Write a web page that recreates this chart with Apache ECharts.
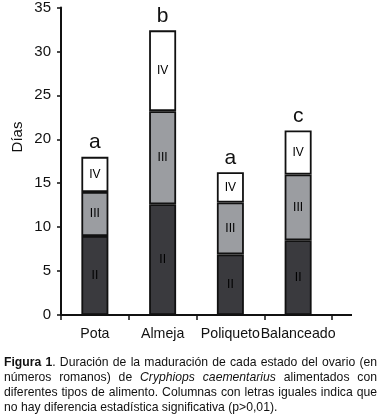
<!DOCTYPE html>
<html>
<head>
    <meta charset="utf-8">
    <title>ECharts</title>
    <script src="https://cdn.jsdelivr.net/npm/echarts/dist/echarts.min.js"></script>
    <style>
        html, body { margin: 0; padding: 0; background: #fff; }
    </style>
</head>
<body>
    <div id="main" style="width: 379px;height:417px;"></div>
    <script>
        var categories = ['Pota', 'Almeja', 'Poliqueto', 'Balanceado'];
        var estadoII = [9, 12.6, 6.9, 8.5];
        var estadoIII = [5, 10.6, 5.9, 7.5];
        var estadoIV = [4, 9.2, 3.45, 5];
        var letras = ['a', 'b', 'a', 'c'];
        var yMin = 0, yMax = 35, yStep = 5;

        var captionLines = [
            '{b|Figura} {b|1}. Duración de la maduración de cada estado del ovario (en',
            'números romanos) de {i|Cryphiops} {i|caementarius} alimentados con',
            'diferentes tipos de alimento. Columnas con letras iguales indica que',
            'no hay diferencia estadística significativa (p>0,01).'
        ];

        var FONT = '"Liberation Sans", Arial, sans-serif';
        var CAP_SIZE = 12.2;
        var chart = echarts.init(document.getElementById('main'));

        function segment(name, values, color, roman) {
            return {
                name: name,
                type: 'bar',
                stack: 'total',
                data: values,
                barWidth: 27,
                itemStyle: { color: color, borderColor: '#111', borderWidth: 1.8 },
                label: {
                    show: true,
                    position: 'inside',
                    formatter: roman,
                    color: '#000',
                    textBorderWidth: 0,
                    fontSize: 12,
                    fontFamily: FONT
                },
                silent: true
            };
        }

        function capStyle(text) {
            return {
                text: text,
                fontSize: CAP_SIZE, fontFamily: FONT, fill: '#111', verticalAlign: 'middle',
                rich: {
                    b: { fontWeight: 'bold', fontSize: CAP_SIZE, fontFamily: FONT, fill: '#111' },
                    i: { fontStyle: 'italic', fontSize: CAP_SIZE, fontFamily: FONT, fill: '#111' }
                }
            };
        }

        // caption: justified lines built word by word
        var capLeft = 4, capRight = 377, capY = [363, 378, 393, 408];
        var captionGraphics = [];
        captionLines.forEach(function (line, li) {
            var words = line.split(' ');
            var widths = words.map(function (w) {
                return new echarts.graphic.Text({ style: capStyle(w) }).getBoundingRect().width;
            });
            var total = widths.reduce(function (a, b) { return a + b; }, 0);
            var spaceW = new echarts.graphic.Text({ style: capStyle('a a') }).getBoundingRect().width
                - 2 * new echarts.graphic.Text({ style: capStyle('a') }).getBoundingRect().width;
            var last = li === captionLines.length - 1;
            var gap = last ? spaceW : (capRight - capLeft - total) / (words.length - 1);
            var x = capLeft;
            words.forEach(function (w, wi) {
                captionGraphics.push({ type: 'text', x: x, y: capY[li], style: capStyle(w) });
                x += widths[wi] + gap;
            });
        });

        var option = {
            animation: false,
            grid: { left: 61, top: 5, right: 47, bottom: 102 },
            xAxis: {
                type: 'category',
                data: categories,
                axisLine: { lineStyle: { color: '#111', width: 2 } },
                axisTick: { show: true, length: 5, lineStyle: { color: '#111', width: 1.5 } },
                axisLabel: { color: '#111', fontSize: 14.2, fontFamily: FONT, margin: 12, interval: 0 }
            },
            yAxis: {
                type: 'value',
                min: yMin,
                max: yMax,
                interval: yStep,
                splitLine: { show: false },
                axisLine: { show: true, lineStyle: { color: '#111', width: 2 } },
                axisTick: { show: true, length: 4, lineStyle: { color: '#111', width: 1.5 } },
                axisLabel: { color: '#111', fontSize: 15, fontFamily: FONT, margin: 10 }
            },
            series: [
                segment('II', estadoII, '#3a3a3e', 'II'),
                segment('III', estadoIII, '#9b9da1', 'III'),
                segment('IV', estadoIV, '#ffffff', 'IV'),
                {
                    // letters above each stacked column
                    type: 'bar',
                    stack: 'total',
                    data: categories.map(function () { return 0; }),
                    barWidth: 27,
                    itemStyle: { color: 'transparent' },
                    label: {
                        show: true,
                        position: 'top',
                        distance: 4,
                        formatter: function (p) { return letras[p.dataIndex]; },
                        color: '#111',
                        fontSize: 21,
                        fontFamily: FONT
                    },
                    silent: true
                }
            ],
            graphic: [
                { type: 'line', shape: { x1: 332, y1: 315, x2: 352, y2: 315 }, style: { stroke: '#111', lineWidth: 2 } },
                { type: 'text', x: 18, y: 137, rotation: Math.PI / 2,
                  style: { text: 'Días', fontSize: 15, fontFamily: FONT, fill: '#111', align: 'center', verticalAlign: 'middle' } }
            ].concat(captionGraphics)
        };

        chart.setOption(option);
    </script>
</body>
</html>
